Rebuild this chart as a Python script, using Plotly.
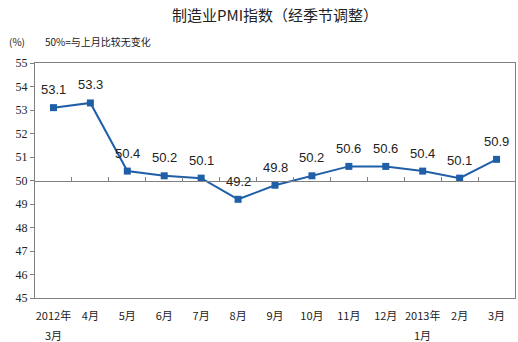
import plotly.graph_objects as go

categories = ["2012年", "4月", "5月", "6月", "7月", "8月", "9月", "10月", "11月", "12月", "2013年", "2月", "3月"]
categories_line2 = ["3月", "", "", "", "", "", "", "", "", "", "1月", "", ""]
pmi = [53.1, 53.3, 50.4, 50.2, 50.1, 49.2, 49.8, 50.2, 50.6, 50.6, 50.4, 50.1, 50.9]
y_ticks = [45, 46, 47, 48, 49, 50, 51, 52, 53, 54, 55]

W, H = 518, 342
L, R, T, B = 35, 3, 63, 44
x_idx = list(range(len(categories)))
line_color = "#1F5FA8"

fig = go.Figure()
fig.add_trace(go.Scatter(
    x=x_idx, y=pmi, mode="lines+markers",
    line=dict(color=line_color, width=2),
    marker=dict(symbol="square", size=7, color=line_color),
    showlegend=False, hoverinfo="skip",
))
# invisible trace on xaxis2 so the baseline axis renders
fig.add_trace(go.Scatter(x=[x_idx[0]], y=[50], xaxis="x2", mode="markers",
                         marker=dict(opacity=0), showlegend=False, hoverinfo="skip"))

ymin, ymax = y_ticks[0], y_ticks[-1]
pos50 = (50 - ymin) / (ymax - ymin)

annotations = [
    dict(text="制造业PMI指数（经季节调整）", xref="paper", yref="paper", x=0.5, y=1,
         xanchor="center", yanchor="bottom", yshift=36, showarrow=False,
         font=dict(family="Noto Sans CJK SC", size=15, color="#222222")),
    dict(text="(%)", xref="paper", yref="paper", x=0, y=1, xanchor="left", yanchor="bottom",
         xshift=-28, yshift=12, showarrow=False,
         font=dict(family="Noto Sans CJK SC", size=10, color="#222222")),
    dict(text="50%=与上月比较无变化", xref="paper", yref="paper", x=0, y=1, xanchor="left",
         yanchor="bottom", xshift=8, yshift=12, showarrow=False,
         font=dict(family="Noto Sans CJK SC", size=10, color="#222222")),
]
for xi, v in zip(x_idx, pmi):
    annotations.append(dict(x=xi, y=v, xref="x", yref="y", text=f"{v:.1f}", showarrow=False,
                            yshift=18, font=dict(family="Liberation Sans, Arial", size=13, color="#222222")))
for xi, t in zip(x_idx, categories_line2):
    if t:
        annotations.append(dict(x=xi, y=0, xref="x", yref="paper", text=t, showarrow=False,
                                yanchor="top", yshift=-27,
                                font=dict(family="Noto Sans CJK SC", size=11, color="#222222")))

fig.update_layout(
    width=W, height=H,
    margin=dict(l=L, r=R, t=T, b=B),
    paper_bgcolor="white", plot_bgcolor="white",
    xaxis=dict(range=[-0.5, len(categories) - 0.5], tickmode="array",
               tickvals=x_idx, ticktext=categories, ticks="outside", ticklen=8,
               tickcolor="rgba(0,0,0,0)", showgrid=False,
               zeroline=False, showline=True, linecolor="#808080", linewidth=1, mirror=True,
               tickfont=dict(family="Noto Sans CJK SC", size=11, color="#222222")),
    xaxis2=dict(range=[-0.5, len(categories) - 0.5], overlaying="x", anchor="free",
                position=pos50, side="top", showline=True, linecolor="#808080", linewidth=1,
                ticks="outside", ticklen=4, tickcolor="#808080",
                tickmode="array", tickvals=[i + 0.5 for i in x_idx[:-1]],
                showticklabels=False, showgrid=False, zeroline=False),
    yaxis=dict(range=[ymin, ymax], tickmode="array", tickvals=y_ticks, ticks="outside",
               ticklen=4, tickcolor="#808080", showgrid=False, zeroline=False,
               showline=True, linecolor="#808080", linewidth=1, mirror=True,
               tickfont=dict(family="Liberation Serif", size=12, color="#222222")),
    annotations=annotations,
)

fig.write_html("out.html")
